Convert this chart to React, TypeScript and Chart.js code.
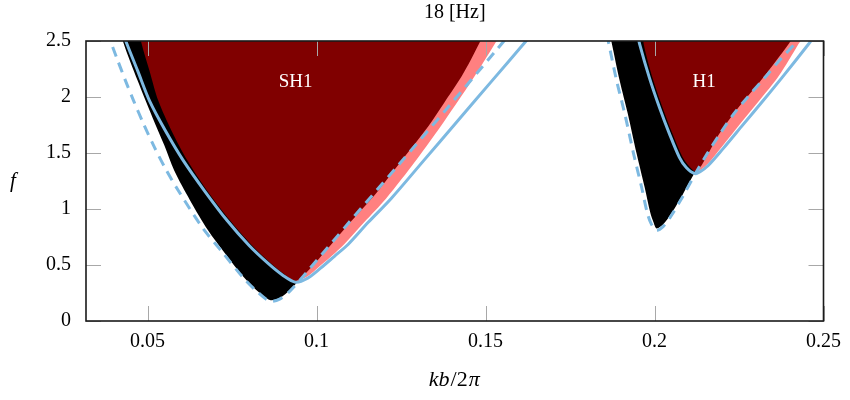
import React, { useEffect, useRef } from "react";
import { Chart, registerables } from "chart.js";

Chart.register(...registerables);

const SERIF = "'Liberation Serif', 'Times New Roman', serif";

// ---- axes ----
const xRange = [0.0318, 0.25];
const yRange = [0, 2.5];
const xTicks = [0.05, 0.1, 0.15, 0.2, 0.25];
const yTicks = [0, 0.5, 1, 1.5, 2, 2.5];
const titleText = "18 [Hz]";
const regionLabels = [
  { text: "SH1", x: 0.0938, y: 2.13 },
  { text: "H1", x: 0.2147, y: 2.13 },
];

type P = [number, number];

// ---- SH1 tongue ----
const sh1Dashed: P[] = [
  [0.0379, 2.589], [0.0409, 2.349], [0.0435, 2.144], [0.0459, 1.966], [0.0488, 1.762],
  [0.0521, 1.548], [0.0553, 1.361], [0.0591, 1.165], [0.0662, 0.836], [0.0724, 0.605],
  [0.0782, 0.391], [0.0829, 0.249], [0.0862, 0.178], [0.0891, 0.196], [0.0924, 0.276],
  [0.0971, 0.436], [0.1094, 0.872], [0.1241, 1.388], [0.1388, 1.904], [0.1535, 2.429],
  [0.1579, 2.589],
];
const sh1Solid: P[] = [
  [0.0426, 2.589], [0.0438, 2.482], [0.0471, 2.233], [0.0506, 1.966], [0.0553, 1.699],
  [0.0606, 1.432], [0.0668, 1.165], [0.0735, 0.899], [0.08, 0.676], [0.0856, 0.516],
  [0.09, 0.409], [0.0938, 0.347], [0.0974, 0.383], [0.1012, 0.472], [0.1053, 0.578],
  [0.1094, 0.685], [0.1153, 0.881], [0.1221, 1.094], [0.1317, 1.432], [0.1418, 1.788],
  [0.1519, 2.144], [0.1615, 2.482], [0.1644, 2.589],
];
const sh1Black: P[] = [
  [0.0421, 2.607], [0.0429, 2.482], [0.0471, 2.144], [0.0515, 1.815], [0.055, 1.566],
  [0.0579, 1.343], [0.0626, 1.077], [0.0679, 0.81], [0.0729, 0.605], [0.0785, 0.391],
  [0.0832, 0.249], [0.0862, 0.187], [0.0891, 0.205], [0.0924, 0.285], [0.0971, 0.445],
  [0.1094, 0.881], [0.1241, 1.397], [0.1359, 1.877], [0.1447, 2.278], [0.1491, 2.607],
];
const sh1Pink: P[] = [
  [0.0938, 0.347], [0.0974, 0.4], [0.1006, 0.48], [0.1044, 0.578], [0.1082, 0.685],
  [0.1141, 0.881], [0.1206, 1.094], [0.1294, 1.432], [0.1379, 1.788], [0.1459, 2.144],
  [0.1529, 2.482], [0.1553, 2.607], [0.08, 2.607],
];
const sh1Red: P[] = [
  [0.0476, 2.607], [0.0482, 2.482], [0.0506, 2.233], [0.0532, 1.966], [0.0571, 1.699],
  [0.0618, 1.432], [0.0676, 1.165], [0.0744, 0.899], [0.0809, 0.676], [0.0865, 0.516],
  [0.0909, 0.409], [0.0938, 0.356], [0.0971, 0.436], [0.1029, 0.632], [0.11, 0.881],
  [0.1176, 1.139], [0.1229, 1.343], [0.1282, 1.548], [0.1332, 1.744], [0.1376, 1.94],
  [0.1421, 2.144], [0.145, 2.295], [0.1482, 2.482], [0.1503, 2.607],
];

// ---- H1 tongue ----
const h1Dashed: P[] = [
  [0.1859, 2.562], [0.1865, 2.473], [0.1888, 2.144], [0.1912, 1.851], [0.1938, 1.495],
  [0.1962, 1.192], [0.1979, 0.961], [0.1991, 0.863], [0.2006, 0.81], [0.2026, 0.845],
  [0.205, 0.943], [0.2082, 1.103], [0.2121, 1.317], [0.2156, 1.495], [0.2194, 1.673],
  [0.2235, 1.851], [0.2279, 2.011], [0.2326, 2.171], [0.2376, 2.349], [0.2415, 2.473],
  [0.2441, 2.562],
];
const h1Solid: P[] = [
  [0.195, 2.562], [0.1956, 2.473], [0.1985, 2.171], [0.2015, 1.904], [0.2044, 1.673],
  [0.2074, 1.459], [0.2094, 1.37], [0.2118, 1.317], [0.2135, 1.334], [0.2159, 1.388],
  [0.2203, 1.539], [0.2262, 1.753], [0.2321, 1.966], [0.2379, 2.18], [0.2456, 2.473],
  [0.2471, 2.536],
];
const h1Black: P[] = [
  [0.1868, 2.562], [0.1874, 2.473], [0.1897, 2.144], [0.1921, 1.851], [0.1947, 1.495],
  [0.1971, 1.192], [0.1988, 0.961], [0.1997, 0.881], [0.2006, 0.827], [0.2026, 0.863],
  [0.205, 0.961], [0.2082, 1.121], [0.2121, 1.334], [0.2182, 1.61], [0.2271, 1.966],
  [0.2359, 2.322], [0.2403, 2.562],
];
const h1Pink: P[] = [
  [0.2121, 1.326], [0.2138, 1.352], [0.2159, 1.406], [0.22, 1.557], [0.2256, 1.77],
  [0.2312, 1.975], [0.2368, 2.189], [0.2426, 2.473], [0.2441, 2.562], [0.2124, 2.6],
];
const h1Red: P[] = [
  [0.1968, 2.562], [0.1968, 2.473], [0.1994, 2.171], [0.2024, 1.904], [0.2053, 1.673],
  [0.2082, 1.468], [0.2103, 1.379], [0.2121, 1.334], [0.2135, 1.37], [0.2156, 1.477],
  [0.2188, 1.655], [0.2241, 1.877], [0.2321, 2.171], [0.2397, 2.473], [0.2415, 2.562],
];

const BLUE = "#7db9e1";
const RED = "#800000";
const PINK = "#ff8080";
const BLACK = "#000000";

const toXY = (pts: P[]) => pts.map(([x, y]) => ({ x, y }));

function polygon(data: P[], color: string, order: number) {
  return {
    data: toXY(data),
    fill: "shape",
    backgroundColor: color,
    borderColor: "rgba(0,0,0,0)",
    borderWidth: 0,
    pointRadius: 0,
    tension: 0.3,
    order,
  };
}
function curve(data: P[], dashed: boolean, order: number) {
  return {
    data: toXY(data),
    fill: false,
    borderColor: BLUE,
    backgroundColor: BLUE,
    borderWidth: 3,
    borderDash: dashed ? [10, 7] : [],
    borderCapStyle: "butt",
    pointRadius: 0,
    tension: 0.3,
    order,
  };
}

const decorPlugin = {
  id: "decor",
  afterDatasetsDraw(chart: any) {
    const { ctx, chartArea: a, scales } = chart;
    const xs = scales.x;
    const ys = scales.y;
    ctx.save();
    // region labels
    ctx.fillStyle = "#ffffff";
    ctx.font = `19px ${SERIF}`;
    ctx.textAlign = "center";
    ctx.textBaseline = "middle";
    for (const l of regionLabels) {
      ctx.fillText(l.text, xs.getPixelForValue(l.x), ys.getPixelForValue(l.y));
    }
    // inner ticks
    ctx.strokeStyle = "#a8a8a8";
    ctx.lineWidth = 1;
    const TL = 15;
    ctx.beginPath();
    for (const v of xTicks) {
      const px = Math.round(xs.getPixelForValue(v)) + 0.5;
      ctx.moveTo(px, a.bottom);
      ctx.lineTo(px, a.bottom - TL);
      ctx.moveTo(px, a.top);
      ctx.lineTo(px, a.top + TL);
    }
    for (const v of yTicks) {
      const py = Math.round(ys.getPixelForValue(v)) + 0.5;
      ctx.moveTo(a.left, py);
      ctx.lineTo(a.left + TL, py);
      ctx.moveTo(a.right, py);
      ctx.lineTo(a.right - TL, py);
    }
    ctx.stroke();
    // frame
    ctx.strokeStyle = "#1a1a1a";
    ctx.lineWidth = 1.6;
    ctx.strokeRect(a.left, a.top, a.right - a.left, a.bottom - a.top);
    // axis titles
    ctx.fillStyle = "#000";
    ctx.textBaseline = "middle";
    ctx.textAlign = "left";
    const parts: [string, boolean][] = [["kb", true], ["/2", false], ["π", true]];
    const size = 22;
    let total = 0;
    const widths: number[] = [];
    for (const [t, it] of parts) {
      ctx.font = `${it ? "italic " : ""}${size}px ${SERIF}`;
      const w = ctx.measureText(t).width + 1;
      widths.push(w);
      total += w;
    }
    let cx = (a.left + a.right) / 2 - total / 2;
    parts.forEach(([t, it], i) => {
      ctx.font = `${it ? "italic " : ""}${size}px ${SERIF}`;
      ctx.fillText(t, cx, 380);
      cx += widths[i];
    });
    ctx.textAlign = "center";
    ctx.font = `italic 21px ${SERIF}`;
    ctx.fillText("f", 13, (a.top + a.bottom) / 2);
    ctx.restore();
  },
};

export default function App() {
  const ref = useRef<HTMLCanvasElement>(null);
  useEffect(() => {
    const config: any = {
      type: "line",
      data: {
        datasets: [
          curve(sh1Solid, false, 0),
          curve(sh1Dashed, true, 0),
          curve(h1Solid, false, 0),
          curve(h1Dashed, true, 0),
          polygon(sh1Red, RED, 2),
          polygon(h1Red, RED, 2),
          polygon(sh1Pink, PINK, 3),
          polygon(h1Pink, PINK, 3),
          polygon(sh1Black, BLACK, 4),
          polygon(h1Black, BLACK, 4),
        ],
      },
      options: {
        animation: false,
        responsive: false,
        maintainAspectRatio: false,
        layout: { padding: { left: 0, right: 22, top: 0, bottom: 0 } },
        plugins: {
          legend: { display: false },
          tooltip: { enabled: false },
          title: {
            display: true,
            text: titleText,
            fullSize: false,
            color: "#000",
            font: { family: SERIF, size: 20, weight: "normal", lineHeight: 1.2 },
            padding: { top: 1, bottom: 16 },
          },
        },
        scales: {
          x: {
            type: "linear",
            min: xRange[0],
            max: xRange[1],
            afterBuildTicks: (s: any) => {
              s.ticks = xTicks.map((v) => ({ value: v }));
            },
            afterFit: (s: any) => {
              s.height = 79;
            },
            grid: { display: false, drawTicks: false },
            border: { display: false },
            ticks: {
              color: "#000",
              font: { family: SERIF, size: 20 },
              padding: 9,
              maxRotation: 0,
              autoSkip: false,
              callback: (v: number) => String(v),
            },
          },
          y: {
            type: "linear",
            min: yRange[0],
            max: yRange[1],
            afterBuildTicks: (s: any) => {
              s.ticks = yTicks.map((v) => ({ value: v }));
            },
            afterFit: (s: any) => {
              s.width = 86;
            },
            grid: { display: false, drawTicks: false },
            border: { display: false },
            ticks: {
              color: "#000",
              font: { family: SERIF, size: 20 },
              padding: 15,
              autoSkip: false,
              callback: (v: number) => String(v),
            },
          },
        },
      },
      plugins: [decorPlugin],
    };
    const chart = new Chart(ref.current as HTMLCanvasElement, config);
    return () => chart.destroy();
  }, []);
  return (
    <div style={{ position: "fixed", left: 0, top: 0, width: 850, height: 400, background: "#fff" }}>
      <canvas ref={ref} width={850} height={400} style={{ width: 850, height: 400, display: "block" }} />
    </div>
  );
}
